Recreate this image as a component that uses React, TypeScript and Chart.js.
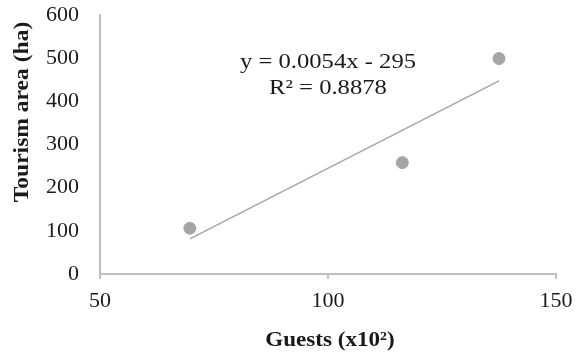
import React, { useEffect, useRef } from 'react';
import { Chart, registerables } from 'chart.js';

Chart.register(...registerables);

// ---- data ----
const guests = [69.7, 116.3, 137.5];
const tourismArea = [106, 258, 499];
const trendSlope = 5.4; // per unit of x10² guests
const trendIntercept = -295;
const xTicks = [50, 100, 150];
const yTicks = [0, 100, 200, 300, 400, 500, 600];
const xTitle = 'Guests (x10²)';
const yTitle = 'Tourism area (ha)';
const equationLines = ['y = 0.0054x - 295', 'R² = 0.8878'];

const FONT = "'Liberation Serif', 'Times New Roman', serif";
const POINT_COLOR = '#a5a5a5';
const AXIS_COLOR = '#bfbfbf';
const TEXT_COLOR = '#1a1a1a';

const textPlugin = {
  id: 'textPlugin',
  afterDraw(chart: any) {
    const { ctx, chartArea } = chart;
    const cx = (chartArea.left + chartArea.right) / 2;
    ctx.save();
    ctx.fillStyle = TEXT_COLOR;
    ctx.textAlign = 'center';
    ctx.textBaseline = 'middle';
    // equation (slightly wide, as in the reference)
    ctx.font = `22px ${FONT}`;
    for (let i = 0; i < equationLines.length; i++) {
      ctx.save();
      ctx.translate(cx, chartArea.top + 47 + i * 26);
      ctx.scale(1.12, 1);
      ctx.fillText(equationLines[i], 0, 0);
      ctx.restore();
    }
    // x title
    ctx.font = `bold 22px ${FONT}`;
    ctx.save();
    ctx.translate(cx + 2, chartArea.bottom + 66);
    ctx.scale(1.05, 1);
    ctx.fillText(xTitle, 0, 0);
    ctx.restore();
    // y title
    ctx.save();
    ctx.translate(chartArea.left - 78, chartArea.top + 97);
    ctx.rotate(-Math.PI / 2);
    ctx.scale(1.07, 1);
    ctx.fillText(yTitle, 0, 0);
    ctx.restore();
    ctx.restore();
  },
};

export default function App() {
  const ref = useRef<HTMLCanvasElement>(null);
  useEffect(() => {
    if (!ref.current) return;
    const xMin = Math.min(...guests);
    const xMax = Math.max(...guests);
    const chart = new Chart(ref.current, {
      type: 'scatter',
      data: {
        datasets: [
          {
            label: 'Tourism area',
            data: guests.map((g, i) => ({ x: g, y: tourismArea[i] })),
            backgroundColor: POINT_COLOR,
            borderColor: POINT_COLOR,
            pointRadius: 6,
            order: 1,
          },
          {
            label: 'Linear trend',
            data: [xMin, xMax].map((x) => ({ x, y: trendSlope * x + trendIntercept })),
            showLine: true,
            borderColor: POINT_COLOR,
            backgroundColor: POINT_COLOR,
            borderWidth: 1.5,
            pointRadius: 0,
            fill: false,
            order: 2,
          } as any,
        ],
      },
      options: {
        responsive: false,
        animation: false,
        layout: { padding: { top: 15, right: 20, left: 0, bottom: 0 } },
        plugins: {
          legend: { display: false },
          tooltip: { enabled: false },
        },
        scales: {
          x: {
            type: 'linear',
            min: xTicks[0],
            max: xTicks[xTicks.length - 1],
            afterBuildTicks: (s: any) => {
              s.ticks = xTicks.map((v) => ({ value: v }));
            },
            afterFit: (s: any) => {
              s.height = 81;
              s.paddingLeft = 0;
              s.paddingRight = 0;
            },
            ticks: {
              font: { family: FONT, size: 22 },
              color: TEXT_COLOR,
              padding: 9,
              maxRotation: 0,
            },
            grid: {
              drawOnChartArea: false,
              drawTicks: true,
              tickLength: 5,
              color: AXIS_COLOR,
              lineWidth: 2,
            },
            border: { display: true, color: AXIS_COLOR, width: 2 },
          },
          y: {
            type: 'linear',
            min: yTicks[0],
            max: yTicks[yTicks.length - 1],
            afterBuildTicks: (s: any) => {
              s.ticks = yTicks.map((v) => ({ value: v }));
            },
            afterFit: (s: any) => {
              s.width = 100;
              s.paddingTop = 0;
              s.paddingBottom = 0;
            },
            ticks: {
              font: { family: FONT, size: 22 },
              color: TEXT_COLOR,
              padding: 21,
            },
            grid: {
              drawOnChartArea: false,
              drawTicks: false,
              color: AXIS_COLOR,
            },
            border: { display: true, color: AXIS_COLOR, width: 2 },
          },
        },
      },
      plugins: [textPlugin],
    });
    return () => chart.destroy();
  }, []);
  return (
    <div style={{ position: 'fixed', left: 0, top: 0, width: 576, height: 355, background: '#fff' }}>
      <canvas ref={ref} width={576} height={355} style={{ display: 'block' }} />
    </div>
  );
}
